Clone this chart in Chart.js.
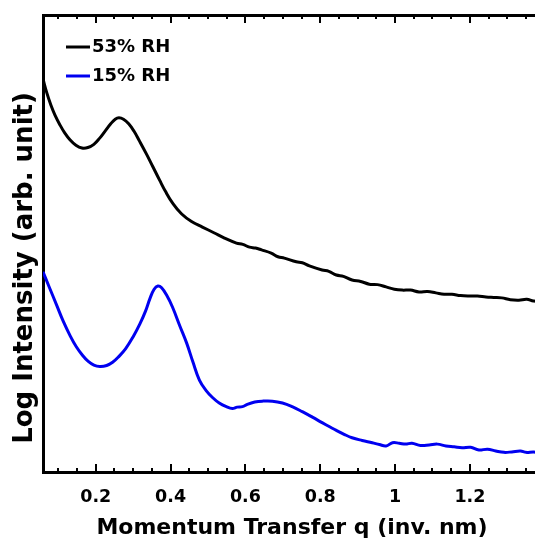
<!DOCTYPE html>
<html>
<head>
<meta charset="utf-8">
<script src="https://cdn.jsdelivr.net/npm/chart.js@4.4.1/dist/chart.umd.min.js"></script>
<style>
  html, body { margin: 0; padding: 0; background: #fff; overflow: hidden; }
  #wrap { width: 535px; height: 542px; overflow: hidden; }
</style>
</head>
<body>
<div id="wrap"><canvas id="saxs" width="541" height="542"></canvas></div>
<script>
// ----------------------------------
// - DATA
// ----------------------------------
var SERIES_LABELS = ['53% RH', '15% RH'];
var SERIES_COLORS = ['#000000', '#0000f0'];

// 53% RH curve: q (inv. nm) and log intensity (arb. unit)
var Q_53 = [0.059, 0.069, 0.080, 0.091, 0.104, 0.117, 0.131, 0.147, 0.163, 0.179,
            0.195, 0.210, 0.225, 0.240, 0.252, 0.262, 0.274, 0.288, 0.302, 0.317,
            0.336, 0.352, 0.371, 0.387, 0.405, 0.429, 0.456, 0.485, 0.517, 0.544,
            0.576, 0.593, 0.611, 0.627, 0.643, 0.669, 0.687, 0.704, 0.736, 0.752,
            0.771, 0.805, 0.823, 0.843, 0.862, 0.885, 0.908, 0.931, 0.953, 0.976,
            0.998, 1.019, 1.041, 1.064, 1.087, 1.109, 1.131, 1.152, 1.175, 1.197,
            1.220, 1.243, 1.264, 1.285, 1.308, 1.331, 1.352, 1.370, 1.390];
var I_53 = [86.0, 83.0, 80.3, 78.1, 76.0, 74.2, 72.7, 71.5, 70.9, 71.0,
            71.7, 73.0, 74.6, 76.2, 77.2, 77.5, 77.2, 76.2, 74.6, 72.4,
            69.5, 66.9, 63.8, 61.3, 58.9, 56.5, 54.8, 53.6, 52.3, 51.2,
            50.1, 49.8, 49.2, 49.0, 48.6, 47.9, 47.1, 46.8, 46.0, 45.8,
            45.1, 44.2, 43.9, 43.1, 42.8, 42.0, 41.7, 41.1, 41.0, 40.5,
            40.0, 39.8, 39.8, 39.4, 39.5, 39.2, 38.9, 38.9, 38.6, 38.5,
            38.5, 38.3, 38.2, 38.1, 37.7, 37.6, 37.8, 37.4, 37.4];

// 15% RH curve
var Q_15 = [0.059, 0.075, 0.096, 0.113, 0.131, 0.148, 0.165, 0.180, 0.195, 0.211,
            0.229, 0.245, 0.262, 0.280, 0.300, 0.318, 0.333, 0.345, 0.356, 0.366,
            0.376, 0.390, 0.405, 0.425, 0.443, 0.460, 0.477, 0.495, 0.512, 0.530,
            0.549, 0.565, 0.578, 0.592, 0.605, 0.625, 0.645, 0.672, 0.699, 0.725,
            0.752, 0.779, 0.805, 0.825, 0.843, 0.865, 0.885, 0.912, 0.939, 0.958,
            0.976, 0.993, 1.011, 1.028, 1.045, 1.068, 1.091, 1.113, 1.136, 1.158,
            1.179, 1.202, 1.224, 1.247, 1.269, 1.291, 1.312, 1.335, 1.350, 1.370,
            1.390];
var I_15 = [43.8, 40.6, 36.4, 33.0, 29.9, 27.4, 25.5, 24.2, 23.4, 23.1,
            23.3, 24.0, 25.3, 27.0, 29.6, 32.4, 35.2, 38.0, 40.0, 40.7,
            40.3, 38.6, 36.1, 31.9, 28.2, 24.0, 20.1, 17.8, 16.3, 15.1,
            14.3, 13.9, 14.2, 14.3, 14.8, 15.3, 15.5, 15.5, 15.1, 14.3,
            13.2, 12.0, 10.8, 9.9, 9.1, 8.2, 7.5, 6.9, 6.4, 6.0,
            5.7, 6.4, 6.3, 6.1, 6.3, 5.8, 5.9, 6.1, 5.7, 5.5,
            5.3, 5.4, 4.8, 5.0, 4.6, 4.3, 4.4, 4.6, 4.3, 4.4,
            4.2];

var X_MIN = 0.059;
var X_MAX = 1.39;
var X_TICKS = [0.2, 0.4, 0.6, 0.8, 1, 1.2];
var X_TICK_LABELS = ['0.2', '0.4', '0.6', '0.8', '1', '1.2'];
var X_TITLE = 'Momentum Transfer q (inv. nm)';
var Y_TITLE = 'Log Intensity (arb. unit)';

function toPoints(qs, vals) {
    return qs.map(function(q, i) { return {x: q, y: vals[i]}; });
}

Chart.defaults.font.family = 'DejaVu Sans';
Chart.defaults.color = '#000';

// Inward ticks on the bottom and top frame lines (majors every 0.2, minors every 0.05)
var frameTicks = {
    id: 'frameTicks',
    afterDatasetsDraw: function(chart) {
        var ctx = chart.ctx, area = chart.chartArea, xs = chart.scales.x;
        ctx.save();
        ctx.strokeStyle = '#000';
        ctx.lineWidth = 2;
        for (var k = 2; k * 0.05 < xs.max; k++) {
            var px = Math.round(xs.getPixelForValue(k * 0.05));
            var len = (k % 4 === 0) ? 8 : 4;
            ctx.beginPath();
            ctx.moveTo(px, area.bottom);
            ctx.lineTo(px, area.bottom - len);
            ctx.moveTo(px, area.top);
            ctx.lineTo(px, area.top + len);
            ctx.stroke();
        }
        ctx.restore();
    }
};

// Legend in the upper left corner of the plot, line sample + bold label
var cornerLegend = {
    id: 'cornerLegend',
    afterDraw: function(chart) {
        var ctx = chart.ctx;
        ctx.save();
        ctx.font = 'bold 18px "DejaVu Sans"';
        ctx.textBaseline = 'middle';
        chart.data.datasets.forEach(function(ds, i) {
            var y = 47 + i * 29;
            ctx.strokeStyle = ds.borderColor;
            ctx.lineWidth = 3;
            ctx.beginPath();
            ctx.moveTo(66, y);
            ctx.lineTo(90, y);
            ctx.stroke();
            ctx.fillStyle = '#000';
            ctx.fillText(ds.label, 92, y);
        });
        ctx.restore();
    }
};

// Rotated y title, placed like the reference (a bit below centre)
var yTitle = {
    id: 'yTitle',
    afterDraw: function(chart) {
        var ctx = chart.ctx;
        ctx.save();
        ctx.font = 'bold 26px "DejaVu Sans"';
        ctx.fillStyle = '#000';
        ctx.textAlign = 'center';
        ctx.textBaseline = 'alphabetic';
        ctx.translate(32, 268);
        ctx.rotate(-Math.PI / 2);
        ctx.fillText(Y_TITLE, 0, 0);
        ctx.restore();
    }
};

var frameBorder = {display: true, width: 3, color: '#000'};

new Chart(document.getElementById('saxs').getContext('2d'), {
    type: 'line',
    data: {
        datasets: [{
            label: SERIES_LABELS[0],
            data: toPoints(Q_53, I_53),
            borderColor: SERIES_COLORS[0],
            borderWidth: 3,
            pointRadius: 0,
            tension: 0.4,
            fill: false
        }, {
            label: SERIES_LABELS[1],
            data: toPoints(Q_15, I_15),
            borderColor: SERIES_COLORS[1],
            borderWidth: 3,
            pointRadius: 0,
            tension: 0.4,
            fill: false
        }]
    },
    options: {
        responsive: false,
        animation: false,
        devicePixelRatio: 1,
        layout: {padding: 0},
        plugins: {
            legend: {display: false},
            tooltip: {enabled: false}
        },
        scales: {
            x: {
                type: 'linear',
                position: 'bottom',
                min: X_MIN,
                max: X_MAX,
                afterFit: function(scale) { scale.height = 70; },
                afterBuildTicks: function(scale) {
                    scale.ticks = X_TICKS.map(function(v) { return {value: v}; });
                },
                grid: {display: false, drawTicks: false},
                border: frameBorder,
                ticks: {
                    padding: 15,
                    maxRotation: 0,
                    autoSkip: false,
                    font: {size: 17.5, weight: 'bold'},
                    callback: function(value, index) { return X_TICK_LABELS[index]; }
                },
                title: {
                    display: true,
                    text: X_TITLE,
                    align: 'center',
                    font: {size: 22, weight: 'bold'},
                    padding: {top: 0, bottom: 1}
                }
            },
            xTop: {
                type: 'linear',
                position: 'top',
                min: X_MIN,
                max: X_MAX,
                afterFit: function(scale) { scale.height = 15; },
                grid: {display: false, drawTicks: false},
                border: frameBorder,
                ticks: {display: false}
            },
            y: {
                type: 'linear',
                position: 'left',
                min: 0,
                max: 100,
                afterFit: function(scale) { scale.width = 43; },
                grid: {display: false, drawTicks: false},
                border: frameBorder,
                ticks: {display: false}
            }
        }
    },
    plugins: [frameTicks, cornerLegend, yTitle]
});
</script>
</body>
</html>
